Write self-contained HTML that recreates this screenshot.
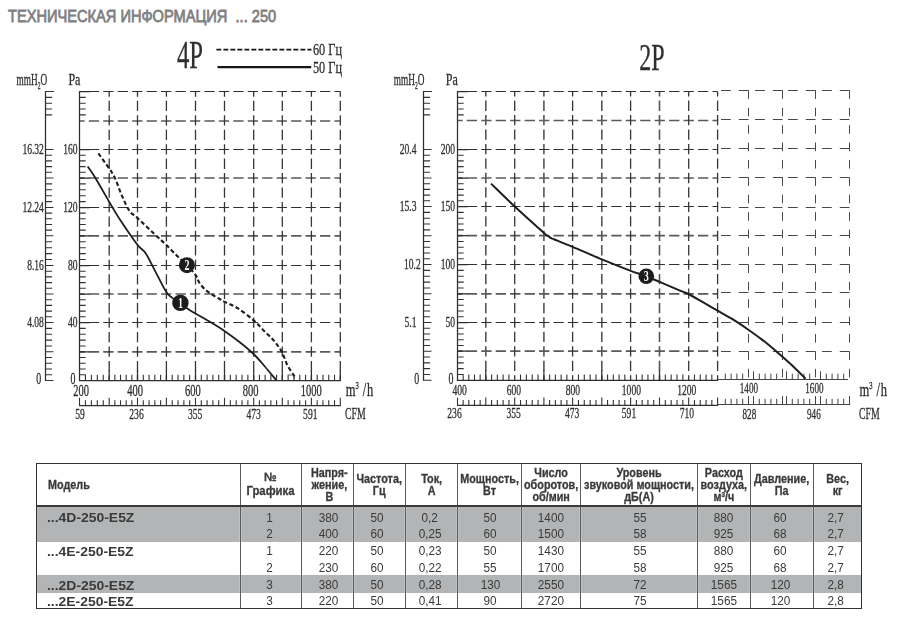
<!DOCTYPE html>
<html lang="ru"><head><meta charset="utf-8"><title>Техническая информация ... 250</title>
<style>
html,body{margin:0;padding:0;background:#fff;}
body{width:900px;height:625px;position:relative;overflow:hidden;font-family:"Liberation Sans",sans-serif;}
svg{position:absolute;left:0;top:0;will-change:transform;}
h1{position:absolute;left:7.6px;top:7.4px;margin:0;font-size:17px;line-height:20px;font-weight:normal;color:#808080;-webkit-text-stroke:0.8px #808080;white-space:nowrap;transform-origin:0 0;transform:scaleX(0.86);}
.tbl{position:absolute;left:0;top:0;width:900px;height:625px;color:#3a3a3a;will-change:transform;}
.band{position:absolute;left:37px;width:825px;background:#b3b4b5;}
.frame{position:absolute;left:35.6px;top:463px;width:824.3px;height:143.7px;border:1.6px solid #333;box-sizing:content-box;}
.hline{position:absolute;left:37px;width:825px;top:504.9px;height:1.8px;background:#3a3a3a;}
.vl{position:absolute;top:464px;height:144px;width:1.2px;background:#5c5c5c;box-shadow:1px 0 0 rgba(255,255,255,.18),-1px 0 0 rgba(255,255,255,.18);}
.hc{position:absolute;top:465.5px;height:39px;display:flex;align-items:center;justify-content:center;text-align:center;font-weight:bold;font-size:12px;line-height:12px;-webkit-text-stroke:0.3px #3a3a3a;}
.hc span{display:inline-block;transform:scaleX(0.9);white-space:nowrap;}
.hc.left{justify-content:flex-start;}
.hc.left span{transform-origin:0 50%;margin-left:11px;}
.hc i{font-style:normal;position:relative;top:-1.8px;}
.hc sup{font-size:7px;line-height:0;vertical-align:4px;}
.mdl{position:absolute;left:46.5px;font-weight:bold;font-size:13px;line-height:16px;white-space:nowrap;transform-origin:0 50%;transform:scaleX(1.07);}
.dc{position:absolute;height:16px;text-align:center;font-size:12.5px;line-height:16px;}
.dc span{display:inline-block;transform:scaleX(0.94);}
</style></head><body>
<h1>ТЕХНИЧЕСКАЯ ИНФОРМАЦИЯ&nbsp; ... 250</h1>
<svg width="900" height="625" viewBox="0 0 900 625" font-family="Liberation Serif, serif" fill="#2e2e2e" stroke="#2e2e2e" stroke-width="0.3">
<path d="M79.5,322.5H340.3M79.5,265.5H340.3M79.5,207.5H340.3M79.5,149.5H340.3M79.5,91.5H340.3" fill="none" stroke="#303030" stroke-width="1.1" stroke-dasharray="10.3 4.15" stroke-dashoffset="5.15"/>
<path d="M79.5,351.8H340.3M79.5,294H340.3M79.5,235.8H340.3M79.5,178H340.3M79.5,121H340.3" fill="none" stroke="#5a5a5a" stroke-width="1.7" stroke-dasharray="10.3 4.15" stroke-dashoffset="5.15"/>
<path d="M109.2,380.5V91.5M137.5,380.5V91.5M166.4,380.5V91.5M195.5,380.5V91.5M224.5,380.5V91.5M253.7,380.5V91.5M282.3,380.5V91.5M311.4,380.5V91.5M340.3,380.5V91.5" fill="none" stroke="#363636" stroke-width="1.3" stroke-dasharray="10.3 4.15" stroke-dashoffset="5.15"/>
<path d="M79.5,351.8H89.5M79.5,322.5H89.5M79.5,294H89.5M79.5,265.5H89.5M79.5,235.8H89.5M79.5,207.5H89.5M79.5,178H89.5M79.5,149.5H89.5M79.5,91.5H89.5M109.2,380.5V370.5M137.5,380.5V370.5M166.4,380.5V370.5M195.5,380.5V370.5M224.5,380.5V370.5M253.7,380.5V370.5M282.3,380.5V370.5M311.4,380.5V370.5M340.3,380.5V370.5M79.5,381V91M79,380.5H340.8M45.5,381V91M79,405.5H340.8" fill="none" stroke="#2e2e2e" stroke-width="1.25"/>
<path d="M45.5,380.5H53.5M45.5,374.76H52.1M79.5,374.76H85.7M45.5,369.02H52.1M79.5,369.02H85.7M45.5,363.28H52.1M79.5,363.28H85.7M45.5,357.54H52.1M79.5,357.54H85.7M45.5,351.8H53.5M45.5,345.94H52.1M79.5,345.94H85.7M45.5,340.08H52.1M79.5,340.08H85.7M45.5,334.22H52.1M79.5,334.22H85.7M45.5,328.36H52.1M79.5,328.36H85.7M45.5,322.5H53.5M45.5,316.8H52.1M79.5,316.8H85.7M45.5,311.1H52.1M79.5,311.1H85.7M45.5,305.4H52.1M79.5,305.4H85.7M45.5,299.7H52.1M79.5,299.7H85.7M45.5,294H53.5M45.5,288.3H52.1M79.5,288.3H85.7M45.5,282.6H52.1M79.5,282.6H85.7M45.5,276.9H52.1M79.5,276.9H85.7M45.5,271.2H52.1M79.5,271.2H85.7M45.5,265.5H53.5M45.5,259.56H52.1M79.5,259.56H85.7M45.5,253.62H52.1M79.5,253.62H85.7M45.5,247.68H52.1M79.5,247.68H85.7M45.5,241.74H52.1M79.5,241.74H85.7M45.5,235.8H53.5M45.5,230.14H52.1M79.5,230.14H85.7M45.5,224.48H52.1M79.5,224.48H85.7M45.5,218.82H52.1M79.5,218.82H85.7M45.5,213.16H52.1M79.5,213.16H85.7M45.5,207.5H53.5M45.5,201.6H52.1M79.5,201.6H85.7M45.5,195.7H52.1M79.5,195.7H85.7M45.5,189.8H52.1M79.5,189.8H85.7M45.5,183.9H52.1M79.5,183.9H85.7M45.5,178H53.5M45.5,172.3H52.1M79.5,172.3H85.7M45.5,166.6H52.1M79.5,166.6H85.7M45.5,160.9H52.1M79.5,160.9H85.7M45.5,155.2H52.1M79.5,155.2H85.7M45.5,149.5H53.5M45.5,114.9H52.1M79.5,114.9H85.7M45.5,109.05H52.1M79.5,109.05H85.7M45.5,103.2H52.1M79.5,103.2H85.7M45.5,97.35H52.1M79.5,97.35H85.7M45.5,91.5H54M79.5,405.5V397.7M85.44,380.5V374.8M85.44,405.5V400.3M91.38,380.5V374.8M91.38,405.5V400.3M97.32,380.5V374.8M97.32,405.5V400.3M103.26,380.5V374.8M103.26,405.5V400.3M109.2,405.5V397.7M114.86,380.5V374.8M114.86,405.5V400.3M120.52,380.5V374.8M120.52,405.5V400.3M126.18,380.5V374.8M126.18,405.5V400.3M131.84,380.5V374.8M131.84,405.5V400.3M137.5,405.5V397.7M143.28,380.5V374.8M143.28,405.5V400.3M149.06,380.5V374.8M149.06,405.5V400.3M154.84,380.5V374.8M154.84,405.5V400.3M160.62,380.5V374.8M160.62,405.5V400.3M166.4,405.5V397.7M172.22,380.5V374.8M172.22,405.5V400.3M178.04,380.5V374.8M178.04,405.5V400.3M183.86,380.5V374.8M183.86,405.5V400.3M189.68,380.5V374.8M189.68,405.5V400.3M195.5,405.5V397.7M201.3,380.5V374.8M201.3,405.5V400.3M207.1,380.5V374.8M207.1,405.5V400.3M212.9,380.5V374.8M212.9,405.5V400.3M218.7,380.5V374.8M218.7,405.5V400.3M224.5,405.5V397.7M230.34,380.5V374.8M230.34,405.5V400.3M236.18,380.5V374.8M236.18,405.5V400.3M242.02,380.5V374.8M242.02,405.5V400.3M247.86,380.5V374.8M247.86,405.5V400.3M253.7,405.5V397.7M259.42,380.5V374.8M259.42,405.5V400.3M265.14,380.5V374.8M265.14,405.5V400.3M270.86,380.5V374.8M270.86,405.5V400.3M276.58,380.5V374.8M276.58,405.5V400.3M282.3,405.5V397.7M288.12,380.5V374.8M288.12,405.5V400.3M293.94,380.5V374.8M293.94,405.5V400.3M299.76,380.5V374.8M299.76,405.5V400.3M305.58,380.5V374.8M305.58,405.5V400.3M311.4,405.5V397.7M317.18,380.5V374.8M317.18,405.5V400.3M322.96,380.5V374.8M322.96,405.5V400.3M328.74,380.5V374.8M328.74,405.5V400.3M334.52,380.5V374.8M334.52,405.5V400.3M340.3,405.5V397.7" fill="none" stroke="#333" stroke-width="1.1"/>
<text transform="translate(43.9,154.2) scale(0.66,1)" font-size="14.5" text-anchor="end">16.32</text>
<text transform="translate(43.9,212.2) scale(0.66,1)" font-size="14.5" text-anchor="end">12.24</text>
<text transform="translate(43.9,270.2) scale(0.66,1)" font-size="14.5" text-anchor="end">8.16</text>
<text transform="translate(43.9,327.2) scale(0.66,1)" font-size="14.5" text-anchor="end">4.08</text>
<text transform="translate(41.2,383.7) scale(0.62,1)" font-size="16" text-anchor="end">0</text>
<text transform="translate(77.6,154.2) scale(0.66,1)" font-size="14.5" text-anchor="end">160</text>
<text transform="translate(77.6,212.2) scale(0.66,1)" font-size="14.5" text-anchor="end">120</text>
<text transform="translate(77.6,270.2) scale(0.66,1)" font-size="14.5" text-anchor="end">80</text>
<text transform="translate(77.6,327.2) scale(0.66,1)" font-size="14.5" text-anchor="end">40</text>
<text transform="translate(75.4,383.7) scale(0.62,1)" font-size="16" text-anchor="end">0</text>
<text transform="translate(81.1,396) scale(0.655,1)" font-size="16" text-anchor="middle">200</text>
<text transform="translate(135.1,396) scale(0.655,1)" font-size="16" text-anchor="middle">400</text>
<text transform="translate(192.9,396) scale(0.655,1)" font-size="16" text-anchor="middle">600</text>
<text transform="translate(250.6,396) scale(0.655,1)" font-size="16" text-anchor="middle">800</text>
<text transform="translate(311.2,396) scale(0.655,1)" font-size="16" text-anchor="middle">1000</text>
<text transform="translate(80,419.1) scale(0.62,1)" font-size="15.5" text-anchor="middle">59</text>
<text transform="translate(136.5,419.1) scale(0.62,1)" font-size="15.5" text-anchor="middle">236</text>
<text transform="translate(195.2,419.1) scale(0.62,1)" font-size="15.5" text-anchor="middle">355</text>
<text transform="translate(253.7,419.1) scale(0.62,1)" font-size="15.5" text-anchor="middle">473</text>
<text transform="translate(310.3,419.1) scale(0.62,1)" font-size="15.5" text-anchor="middle">591</text>
<text transform="translate(16.6,85) scale(0.58,1)" font-size="16">mmH<tspan font-size="9.5" dy="3.6">2</tspan><tspan dy="-3.6">O</tspan></text>
<text transform="translate(68.4,85) scale(0.75,1)" font-size="16">Pa</text>
<text transform="translate(345.8,395.6) scale(0.66,1)" font-size="19">m<tspan font-size="10" dy="-6.5">3</tspan><tspan dy="6.5" letter-spacing="1.2"> /h</tspan></text>
<text transform="translate(345,419.3) scale(0.575,1)" font-size="17">CFM</text>
<text transform="translate(177,67.8) scale(0.625,1)" font-size="39.5">4P</text>
<path d="M216.4,49.6H311.5" stroke="#161616" stroke-width="1.9" stroke-dasharray="4.9 2.1" fill="none"/>
<path d="M217.5,67.1H311.2" stroke="#161616" stroke-width="2.1" fill="none"/>
<text transform="translate(313,55.4) scale(0.7,1)" font-size="17.5">60 Гц</text>
<text transform="translate(313,73.3) scale(0.7,1)" font-size="17.5">50 Гц</text>
<path d="M87.7,166.5C88.98,168.42 91.25,171.15 95.4,178C99.55,184.85 108.18,200.17 112.6,207.6C117.02,215.03 117.8,216.45 121.9,222.6C126,228.75 133.25,239.4 137.2,244.5C141.15,249.6 142.8,249.15 145.6,253.2C148.4,257.25 150.6,262.4 154,268.8C157.4,275.2 163,286.8 166,291.6C169,296.4 169.6,295.72 172,297.6C174.4,299.48 177.6,300.9 180.4,302.9C183.2,304.9 185.2,307.2 188.8,309.6C192.4,312 198,314.98 202,317.3C206,319.62 209,321.18 212.8,323.5C216.6,325.82 220.2,328 224.8,331.2C229.4,334.4 235.6,338.9 240.4,342.7C245.2,346.5 249.6,350.12 253.6,354C257.6,357.88 260.65,361.67 264.4,366C268.15,370.33 274.15,377.67 276.1,380" fill="none" stroke="#1e1e1e" stroke-width="1.8" stroke-linejoin="round"/>
<path d="M98.4,153.4C100.23,155.97 106.62,164.63 109.4,168.8C112.18,172.97 113.02,173.92 115.1,178.4C117.18,182.88 119.5,190.27 121.9,195.7C124.3,201.13 126.95,207.32 129.5,211C132.05,214.68 133.03,213.95 137.2,217.8C141.37,221.65 149.7,229.62 154.5,234.1C159.3,238.58 162.08,240.92 166,244.7C169.92,248.48 174.52,253.38 178,256.8C181.48,260.22 183.97,262.17 186.9,265.2C189.83,268.23 193.55,272.12 195.6,275C197.65,277.88 197.67,280.13 199.2,282.5C200.73,284.87 202.75,287.25 204.8,289.2C206.85,291.15 209.17,292.65 211.5,294.2C213.83,295.75 216.58,297.22 218.8,298.5C221.02,299.78 221.6,300.25 224.8,301.9C228,303.55 233.2,305.32 238,308.4C242.8,311.48 249.2,316.6 253.6,320.4C258,324.2 261,327.8 264.4,331.2C267.8,334.6 271.12,337.4 274,340.8C276.88,344.2 279.5,347.6 281.7,351.6C283.9,355.6 285.05,360.65 287.2,364.8C289.35,368.95 293.37,374.55 294.6,376.5" fill="none" stroke="#1e1e1e" stroke-width="2.1" stroke-linejoin="round" stroke-dasharray="4.2 2.6"/>
<path d="M288.3,375H292.5M294.4,376V379.5" fill="none" stroke="#555" stroke-width="0.9"/>
<circle cx="180.4" cy="302.9" r="8.2" fill="#1c1c1c" stroke="none"/>
<text transform="translate(180.4,307.5) scale(0.72,1)" font-size="14" text-anchor="middle" font-weight="bold" fill="#fff" stroke="none">1</text>
<circle cx="186.9" cy="265.2" r="8.0" fill="#1c1c1c" stroke="none"/>
<text transform="translate(186.9,269.8) scale(0.72,1)" font-size="14" text-anchor="middle" font-weight="bold" fill="#fff" stroke="none">2</text>
<path d="M485.8,380.3V91.5M543.9,380.3V91.5M601.8,380.3V91.5M659.5,380.3V91.5" fill="none" stroke="#555" stroke-width="1.6" stroke-dasharray="10.3 4.15" stroke-dashoffset="5.15"/>
<path d="M457.5,322.5H717.6M457.5,264.5H717.6M457.5,206.5H717.6M457.5,149.5H717.6M457.5,91.5H717.6" fill="none" stroke="#303030" stroke-width="1.1" stroke-dasharray="10.3 4.15" stroke-dashoffset="5.15"/>
<path d="M457.5,351.2H717.6M457.5,293.8H717.6M457.5,235.7H717.6M457.5,178H717.6M457.5,120.5H717.6" fill="none" stroke="#5a5a5a" stroke-width="1.7" stroke-dasharray="10.3 4.15" stroke-dashoffset="5.15"/>
<path d="M514.7,380.3V91.5M572.6,380.3V91.5M630.6,380.3V91.5M688.7,380.3V91.5M717.6,380.3V91.5" fill="none" stroke="#363636" stroke-width="1.3" stroke-dasharray="10.3 4.15" stroke-dashoffset="5.15"/>
<path d="M457.5,351.2H467.5M457.5,322.5H467.5M457.5,293.8H467.5M457.5,264.5H467.5M457.5,235.7H467.5M457.5,206.5H467.5M457.5,178H467.5M457.5,149.5H467.5M457.5,91.5H467.5M485.8,380.3V370.3M543.9,380.3V370.3M601.8,380.3V370.3M659.5,380.3V370.3M457.5,380.8V91M457,380.3H718.1M423.5,380.8V91M457,405.3H718.1" fill="none" stroke="#2e2e2e" stroke-width="1.25"/>
<path d="M423.5,380.3H431.5M423.5,374.48H430.1M457.5,374.48H463.7M423.5,368.66H430.1M457.5,368.66H463.7M423.5,362.84H430.1M457.5,362.84H463.7M423.5,357.02H430.1M457.5,357.02H463.7M423.5,351.2H431.5M423.5,345.46H430.1M457.5,345.46H463.7M423.5,339.72H430.1M457.5,339.72H463.7M423.5,333.98H430.1M457.5,333.98H463.7M423.5,328.24H430.1M457.5,328.24H463.7M423.5,322.5H431.5M423.5,316.76H430.1M457.5,316.76H463.7M423.5,311.02H430.1M457.5,311.02H463.7M423.5,305.28H430.1M457.5,305.28H463.7M423.5,299.54H430.1M457.5,299.54H463.7M423.5,293.8H431.5M423.5,287.94H430.1M457.5,287.94H463.7M423.5,282.08H430.1M457.5,282.08H463.7M423.5,276.22H430.1M457.5,276.22H463.7M423.5,270.36H430.1M457.5,270.36H463.7M423.5,264.5H431.5M423.5,258.74H430.1M457.5,258.74H463.7M423.5,252.98H430.1M457.5,252.98H463.7M423.5,247.22H430.1M457.5,247.22H463.7M423.5,241.46H430.1M457.5,241.46H463.7M423.5,235.7H431.5M423.5,229.86H430.1M457.5,229.86H463.7M423.5,224.02H430.1M457.5,224.02H463.7M423.5,218.18H430.1M457.5,218.18H463.7M423.5,212.34H430.1M457.5,212.34H463.7M423.5,206.5H431.5M423.5,200.8H430.1M457.5,200.8H463.7M423.5,195.1H430.1M457.5,195.1H463.7M423.5,189.4H430.1M457.5,189.4H463.7M423.5,183.7H430.1M457.5,183.7H463.7M423.5,178H431.5M423.5,172.3H430.1M457.5,172.3H463.7M423.5,166.6H430.1M457.5,166.6H463.7M423.5,160.9H430.1M457.5,160.9H463.7M423.5,155.2H430.1M457.5,155.2H463.7M423.5,149.5H431.5M423.5,114.9H430.1M457.5,114.9H463.7M423.5,109.05H430.1M457.5,109.05H463.7M423.5,103.2H430.1M457.5,103.2H463.7M423.5,97.35H430.1M457.5,97.35H463.7M423.5,91.5H432M457.5,405.3V397.5M463.16,380.3V374.6M463.16,405.3V400.1M468.82,380.3V374.6M468.82,405.3V400.1M474.48,380.3V374.6M474.48,405.3V400.1M480.14,380.3V374.6M480.14,405.3V400.1M485.8,405.3V397.5M491.58,380.3V374.6M491.58,405.3V400.1M497.36,380.3V374.6M497.36,405.3V400.1M503.14,380.3V374.6M503.14,405.3V400.1M508.92,380.3V374.6M508.92,405.3V400.1M514.7,405.3V397.5M520.54,380.3V374.6M520.54,405.3V400.1M526.38,380.3V374.6M526.38,405.3V400.1M532.22,380.3V374.6M532.22,405.3V400.1M538.06,380.3V374.6M538.06,405.3V400.1M543.9,405.3V397.5M549.64,380.3V374.6M549.64,405.3V400.1M555.38,380.3V374.6M555.38,405.3V400.1M561.12,380.3V374.6M561.12,405.3V400.1M566.86,380.3V374.6M566.86,405.3V400.1M572.6,405.3V397.5M578.44,380.3V374.6M578.44,405.3V400.1M584.28,380.3V374.6M584.28,405.3V400.1M590.12,380.3V374.6M590.12,405.3V400.1M595.96,380.3V374.6M595.96,405.3V400.1M601.8,405.3V397.5M607.56,380.3V374.6M607.56,405.3V400.1M613.32,380.3V374.6M613.32,405.3V400.1M619.08,380.3V374.6M619.08,405.3V400.1M624.84,380.3V374.6M624.84,405.3V400.1M630.6,405.3V397.5M636.38,380.3V374.6M636.38,405.3V400.1M642.16,380.3V374.6M642.16,405.3V400.1M647.94,380.3V374.6M647.94,405.3V400.1M653.72,380.3V374.6M653.72,405.3V400.1M659.5,405.3V397.5M665.34,380.3V374.6M665.34,405.3V400.1M671.18,380.3V374.6M671.18,405.3V400.1M677.02,380.3V374.6M677.02,405.3V400.1M682.86,380.3V374.6M682.86,405.3V400.1M688.7,405.3V397.5M694.48,380.3V374.6M694.48,405.3V400.1M700.26,380.3V374.6M700.26,405.3V400.1M706.04,380.3V374.6M706.04,405.3V400.1M711.82,380.3V374.6M711.82,405.3V400.1M717.6,405.3V397.5" fill="none" stroke="#333" stroke-width="1.1"/>
<text transform="translate(416.5,154.2) scale(0.66,1)" font-size="14.5" text-anchor="end">20.4</text>
<text transform="translate(416.5,211.2) scale(0.66,1)" font-size="14.5" text-anchor="end">15.3</text>
<text transform="translate(420.7,269.2) scale(0.66,1)" font-size="14.5" text-anchor="end">10.2</text>
<text transform="translate(416.5,327.2) scale(0.66,1)" font-size="14.5" text-anchor="end">5.1</text>
<text transform="translate(419.2,383.5) scale(0.62,1)" font-size="16" text-anchor="end">0</text>
<text transform="translate(455.1,154.2) scale(0.66,1)" font-size="14.5" text-anchor="end">200</text>
<text transform="translate(455.1,211.2) scale(0.66,1)" font-size="14.5" text-anchor="end">150</text>
<text transform="translate(455.1,269.2) scale(0.66,1)" font-size="14.5" text-anchor="end">100</text>
<text transform="translate(455.1,327.2) scale(0.66,1)" font-size="14.5" text-anchor="end">50</text>
<text transform="translate(453.4,383.5) scale(0.62,1)" font-size="16" text-anchor="end">0</text>
<text transform="translate(459.6,394.6) scale(0.66,1)" font-size="14.5" text-anchor="middle">400</text>
<text transform="translate(513.8,394.6) scale(0.66,1)" font-size="14.5" text-anchor="middle">600</text>
<text transform="translate(572.9,394.6) scale(0.66,1)" font-size="14.5" text-anchor="middle">800</text>
<text transform="translate(631.4,394.6) scale(0.66,1)" font-size="14.5" text-anchor="middle">1000</text>
<text transform="translate(686.7,394.6) scale(0.66,1)" font-size="14.5" text-anchor="middle">1200</text>
<text transform="translate(454.5,417.9) scale(0.66,1)" font-size="14.5" text-anchor="middle">236</text>
<text transform="translate(513.7,417.9) scale(0.66,1)" font-size="14.5" text-anchor="middle">355</text>
<text transform="translate(572.1,417.9) scale(0.66,1)" font-size="14.5" text-anchor="middle">473</text>
<text transform="translate(629,417.9) scale(0.66,1)" font-size="14.5" text-anchor="middle">591</text>
<text transform="translate(686.8,417.9) scale(0.66,1)" font-size="14.5" text-anchor="middle">710</text>
<text transform="translate(393.8,85) scale(0.58,1)" font-size="16">mmH<tspan font-size="9.5" dy="3.6">2</tspan><tspan dy="-3.6">O</tspan></text>
<text transform="translate(445.8,85) scale(0.75,1)" font-size="16">Pa</text>
<text transform="translate(639.2,69.6) scale(0.625,1)" font-size="38.5">2P</text>
<path d="M721,351.5H730.8M738.8,351.5H748.5M755,351.5H764.8M772.8,351.5H782.5M788,351.5H797.8M805.8,351.5H815.5M822,351.5H831.8M839.8,351.5H849.5M721,322.5H730.8M738.8,322.5H748.5M755,322.5H764.8M772.8,322.5H782.5M788,322.5H797.8M805.8,322.5H815.5M822,322.5H831.8M839.8,322.5H849.5M721,292.5H730.8M738.8,292.5H748.5M755,292.5H764.8M772.8,292.5H782.5M788,292.5H797.8M805.8,292.5H815.5M822,292.5H831.8M839.8,292.5H849.5M721,264.5H730.8M738.8,264.5H748.5M755,264.5H764.8M772.8,264.5H782.5M788,264.5H797.8M805.8,264.5H815.5M822,264.5H831.8M839.8,264.5H849.5M721,235.5H730.8M738.8,235.5H748.5M755,235.5H764.8M772.8,235.5H782.5M788,235.5H797.8M805.8,235.5H815.5M822,235.5H831.8M839.8,235.5H849.5M721,207.5H730.8M738.8,207.5H748.5M755,207.5H764.8M772.8,207.5H782.5M788,207.5H797.8M805.8,207.5H815.5M822,207.5H831.8M839.8,207.5H849.5M721,177.5H730.8M738.8,177.5H748.5M755,177.5H764.8M772.8,177.5H782.5M788,177.5H797.8M805.8,177.5H815.5M822,177.5H831.8M839.8,177.5H849.5M721,148.5H730.8M738.8,148.5H748.5M755,148.5H764.8M772.8,148.5H782.5M788,148.5H797.8M805.8,148.5H815.5M822,148.5H831.8M839.8,148.5H849.5M721,119.5H730.8M738.8,119.5H748.5M755,119.5H764.8M772.8,119.5H782.5M788,119.5H797.8M805.8,119.5H815.5M822,119.5H831.8M839.8,119.5H849.5M721,90.5H730.8M738.8,90.5H748.5M755,90.5H764.8M772.8,90.5H782.5M788,90.5H797.8M805.8,90.5H815.5M822,90.5H831.8M839.8,90.5H849.5" fill="none" stroke="#484848" stroke-width="1"/>
<path d="M748.5,90.3V379.3M782.5,90.3V379.3M815.5,90.3V379.3M849.5,90.3V379.3" fill="none" stroke="#484848" stroke-width="1" stroke-dasharray="8.6 8.81" stroke-dashoffset="0"/>
<path d="M717.6,379.5H848M717.6,404.5H850M748.5,404.5V396.1M742.7,379.5V373.6M742.7,404.5V398.8M736.9,379.5V373.6M736.9,404.5V398.8M731.1,379.5V373.6M731.1,404.5V398.8M725.3,379.5V373.6M725.3,404.5V398.8M782.5,404.5V396.1M776.7,379.5V373.6M776.7,404.5V398.8M770.9,379.5V373.6M770.9,404.5V398.8M765.1,379.5V373.6M765.1,404.5V398.8M759.3,379.5V373.6M759.3,404.5V398.8M753.5,379.5V371.3M753.5,404.5V396.1M815.5,404.5V396.1M809.7,379.5V373.6M809.7,404.5V398.8M803.9,379.5V373.6M803.9,404.5V398.8M798.1,379.5V373.6M798.1,404.5V398.8M792.3,379.5V373.6M792.3,404.5V398.8M786.5,379.5V371.3M786.5,404.5V396.1M849.5,404.5V396.1M843.7,379.5V373.6M843.7,404.5V398.8M837.9,379.5V373.6M837.9,404.5V398.8M832.1,379.5V373.6M832.1,404.5V398.8M826.3,379.5V373.6M826.3,404.5V398.8M820.5,379.5V371.3M820.5,404.5V396.1" fill="none" stroke="#444" stroke-width="1"/>
<text transform="translate(748.9,393.2) scale(0.66,1)" font-size="13.8" text-anchor="middle">1400</text>
<text transform="translate(814.4,393.2) scale(0.66,1)" font-size="13.8" text-anchor="middle">1600</text>
<text transform="translate(749.4,419.2) scale(0.66,1)" font-size="13.8" text-anchor="middle">828</text>
<text transform="translate(813.9,419.2) scale(0.66,1)" font-size="13.8" text-anchor="middle">946</text>
<text transform="translate(859.6,395.6) scale(0.66,1)" font-size="19">m<tspan font-size="10" dy="-6.5">3</tspan><tspan dy="6.5" letter-spacing="1.2"> /h</tspan></text>
<text transform="translate(859,419.3) scale(0.575,1)" font-size="17">CFM</text>
<path d="M491,183.6C494.95,187.42 505.87,198.28 514.7,206.5C523.53,214.72 538.37,227.92 544,232.9C549.63,237.88 547.33,235.55 548.5,236.4C549.67,237.25 550.08,237.52 551,238C551.92,238.48 550.4,237.83 554,239.3C557.6,240.77 564.62,243.45 572.6,246.8C580.58,250.15 592.53,255.52 601.9,259.4C611.27,263.28 621.33,267.25 628.8,270.1C636.27,272.95 641.37,274.45 646.7,276.5C652.03,278.55 655.25,280.05 660.8,282.4C666.35,284.75 675.42,288.67 680,290.6C684.58,292.53 684.63,292.15 688.3,294C691.97,295.85 697.2,298.97 702,301.7C706.8,304.43 712.02,307.48 717.1,310.4C722.18,313.32 727.53,316.15 732.5,319.2C737.47,322.25 741.98,325.3 746.9,328.7C751.82,332.1 757.03,335.77 762,339.6C766.97,343.43 771.53,347.27 776.7,351.7C781.87,356.13 788.18,361.68 793,366.2C797.82,370.72 803.5,376.7 805.6,378.8" fill="none" stroke="#1e1e1e" stroke-width="2.0" stroke-linejoin="round"/>
<circle cx="646.3" cy="276.3" r="7.8" fill="#1c1c1c" stroke="none"/>
<text transform="translate(646.3,280.9) scale(0.72,1)" font-size="14" text-anchor="middle" font-weight="bold" fill="#fff" stroke="none">3</text>
</svg>
<div class="tbl">
<div class="band" style="top:506.8px;height:35.7px"></div>
<div class="band" style="top:574.5px;height:18px"></div>
<div class="hc left" style="left:37px;width:203px"><span>Модель</span></div>
<div class="hc" style="left:240px;width:61.8px"><span style="transform:scaleX(0.945)"><i>№</i><br>Графика</span></div>
<div class="hc" style="left:303.2px;width:51.5px"><span>Напря-<br>жение,<br>В</span></div>
<div class="hc" style="left:353.3px;width:51.7px"><span>Частота,<br>Гц</span></div>
<div class="hc" style="left:405px;width:52.8px"><span>Ток,<br>А</span></div>
<div class="hc" style="left:457.8px;width:63.9px"><span>Мощность,<br>Вт</span></div>
<div class="hc" style="left:521.7px;width:58.9px"><span>Число<br>оборотов,<br>об/мин</span></div>
<div class="hc" style="left:580.6px;width:116.6px"><span>Уровень<br>звуковой мощности,<br>дБ(А)</span></div>
<div class="hc" style="left:697.2px;width:53px"><span>Расход<br>воздуха,<br>м<sup>3</sup>/ч</span></div>
<div class="hc" style="left:750.2px;width:62.8px"><span>Давление,<br>Па</span></div>
<div class="hc" style="left:813px;width:48.5px"><span>Вес,<br>кг</span></div>
<div class="mdl" style="top:509.8px">...4D-250-E5Z</div>
<div class="dc" style="left:238.8px;width:61.8px;top:510px"><span>1</span></div>
<div class="dc" style="left:302.6px;width:51.5px;top:510px"><span>380</span></div>
<div class="dc" style="left:351.3px;width:51.7px;top:510px"><span>50</span></div>
<div class="dc" style="left:403.4px;width:52.8px;top:510px"><span>0,2</span></div>
<div class="dc" style="left:458.1px;width:63.9px;top:510px"><span>50</span></div>
<div class="dc" style="left:521.7px;width:58.9px;top:510px"><span>1400</span></div>
<div class="dc" style="left:581.6px;width:116.6px;top:510px"><span>55</span></div>
<div class="dc" style="left:697.4px;width:53px;top:510px"><span>880</span></div>
<div class="dc" style="left:748.7px;width:62.8px;top:510px"><span>60</span></div>
<div class="dc" style="left:811.8px;width:48.5px;top:510px"><span>2,7</span></div>
<div class="dc" style="left:238.8px;width:61.8px;top:526.2px"><span>2</span></div>
<div class="dc" style="left:302.6px;width:51.5px;top:526.2px"><span>400</span></div>
<div class="dc" style="left:351.3px;width:51.7px;top:526.2px"><span>60</span></div>
<div class="dc" style="left:403.4px;width:52.8px;top:526.2px"><span>0,25</span></div>
<div class="dc" style="left:458.1px;width:63.9px;top:526.2px"><span>60</span></div>
<div class="dc" style="left:521.7px;width:58.9px;top:526.2px"><span>1500</span></div>
<div class="dc" style="left:581.6px;width:116.6px;top:526.2px"><span>58</span></div>
<div class="dc" style="left:697.4px;width:53px;top:526.2px"><span>925</span></div>
<div class="dc" style="left:748.7px;width:62.8px;top:526.2px"><span>68</span></div>
<div class="dc" style="left:811.8px;width:48.5px;top:526.2px"><span>2,7</span></div>
<div class="mdl" style="top:544.2px">...4E-250-E5Z</div>
<div class="dc" style="left:238.8px;width:61.8px;top:543.3px"><span>1</span></div>
<div class="dc" style="left:302.6px;width:51.5px;top:543.3px"><span>220</span></div>
<div class="dc" style="left:351.3px;width:51.7px;top:543.3px"><span>50</span></div>
<div class="dc" style="left:403.4px;width:52.8px;top:543.3px"><span>0,23</span></div>
<div class="dc" style="left:458.1px;width:63.9px;top:543.3px"><span>50</span></div>
<div class="dc" style="left:521.7px;width:58.9px;top:543.3px"><span>1430</span></div>
<div class="dc" style="left:581.6px;width:116.6px;top:543.3px"><span>55</span></div>
<div class="dc" style="left:697.4px;width:53px;top:543.3px"><span>880</span></div>
<div class="dc" style="left:748.7px;width:62.8px;top:543.3px"><span>60</span></div>
<div class="dc" style="left:811.8px;width:48.5px;top:543.3px"><span>2,7</span></div>
<div class="dc" style="left:238.8px;width:61.8px;top:560px"><span>2</span></div>
<div class="dc" style="left:302.6px;width:51.5px;top:560px"><span>230</span></div>
<div class="dc" style="left:351.3px;width:51.7px;top:560px"><span>60</span></div>
<div class="dc" style="left:403.4px;width:52.8px;top:560px"><span>0,22</span></div>
<div class="dc" style="left:458.1px;width:63.9px;top:560px"><span>55</span></div>
<div class="dc" style="left:521.7px;width:58.9px;top:560px"><span>1700</span></div>
<div class="dc" style="left:581.6px;width:116.6px;top:560px"><span>58</span></div>
<div class="dc" style="left:697.4px;width:53px;top:560px"><span>925</span></div>
<div class="dc" style="left:748.7px;width:62.8px;top:560px"><span>68</span></div>
<div class="dc" style="left:811.8px;width:48.5px;top:560px"><span>2,7</span></div>
<div class="mdl" style="top:577.5px">...2D-250-E5Z</div>
<div class="dc" style="left:238.8px;width:61.8px;top:576.6px"><span>3</span></div>
<div class="dc" style="left:302.6px;width:51.5px;top:576.6px"><span>380</span></div>
<div class="dc" style="left:351.3px;width:51.7px;top:576.6px"><span>50</span></div>
<div class="dc" style="left:403.4px;width:52.8px;top:576.6px"><span>0,28</span></div>
<div class="dc" style="left:458.1px;width:63.9px;top:576.6px"><span>130</span></div>
<div class="dc" style="left:521.7px;width:58.9px;top:576.6px"><span>2550</span></div>
<div class="dc" style="left:581.6px;width:116.6px;top:576.6px"><span>72</span></div>
<div class="dc" style="left:697.4px;width:53px;top:576.6px"><span>1565</span></div>
<div class="dc" style="left:748.7px;width:62.8px;top:576.6px"><span>120</span></div>
<div class="dc" style="left:811.8px;width:48.5px;top:576.6px"><span>2,8</span></div>
<div class="mdl" style="top:594.2px">...2E-250-E5Z</div>
<div class="dc" style="left:238.8px;width:61.8px;top:593.3px"><span>3</span></div>
<div class="dc" style="left:302.6px;width:51.5px;top:593.3px"><span>220</span></div>
<div class="dc" style="left:351.3px;width:51.7px;top:593.3px"><span>50</span></div>
<div class="dc" style="left:403.4px;width:52.8px;top:593.3px"><span>0,41</span></div>
<div class="dc" style="left:458.1px;width:63.9px;top:593.3px"><span>90</span></div>
<div class="dc" style="left:521.7px;width:58.9px;top:593.3px"><span>2720</span></div>
<div class="dc" style="left:581.6px;width:116.6px;top:593.3px"><span>75</span></div>
<div class="dc" style="left:697.4px;width:53px;top:593.3px"><span>1565</span></div>
<div class="dc" style="left:748.7px;width:62.8px;top:593.3px"><span>120</span></div>
<div class="dc" style="left:811.8px;width:48.5px;top:593.3px"><span>2,8</span></div>
<div class="vl" style="left:239.5px"></div>
<div class="vl" style="left:301.3px"></div>
<div class="vl" style="left:352.8px"></div>
<div class="vl" style="left:404.5px"></div>
<div class="vl" style="left:457.3px"></div>
<div class="vl" style="left:521.2px"></div>
<div class="vl" style="left:580.1px"></div>
<div class="vl" style="left:696.7px"></div>
<div class="vl" style="left:749.7px"></div>
<div class="vl" style="left:812.5px"></div>
<div class="frame"></div><div class="hline"></div>
</div>
</body></html>
